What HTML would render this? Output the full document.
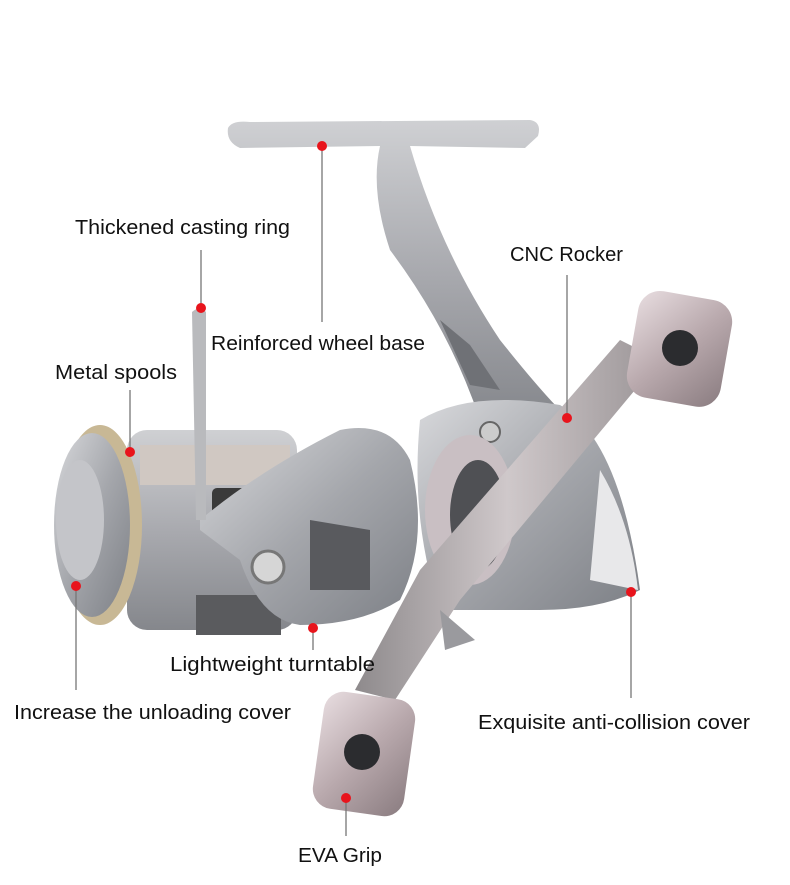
<!DOCTYPE html>
<html><head><meta charset="utf-8"><style>
html,body{margin:0;padding:0;background:#fff}
svg{display:block}
text{font-family:"Liberation Sans",sans-serif;font-size:20px;fill:#111}
</style></head><body>
<svg width="790" height="885" viewBox="0 0 790 885" xmlns="http://www.w3.org/2000/svg">
<defs>
<linearGradient id="m" x1="0" y1="0" x2="1" y2="1"><stop offset="0" stop-color="#d8d9dc"/><stop offset=".5" stop-color="#a4a6ab"/><stop offset="1" stop-color="#7d8086"/></linearGradient>
<linearGradient id="m2" x1="0" y1="0" x2="0" y2="1"><stop offset="0" stop-color="#cfd0d3"/><stop offset=".5" stop-color="#a9aaaf"/><stop offset="1" stop-color="#85878c"/></linearGradient>
<linearGradient id="pk" x1="0" y1="0" x2="1" y2="1"><stop offset="0" stop-color="#e8dde0"/><stop offset=".5" stop-color="#b9a9ad"/><stop offset="1" stop-color="#8a7c80"/></linearGradient>
<linearGradient id="arm" x1="0" y1="0" x2="1" y2="0"><stop offset="0" stop-color="#8e8a8c"/><stop offset=".5" stop-color="#cfc8ca"/><stop offset="1" stop-color="#9a9496"/></linearGradient>
</defs>
<!-- stem -->
<path d="M228,128 Q232,120 250,122 L530,120 Q542,122 538,136 L525,148 L410,146 Q440,250 500,340 Q540,390 560,410 L480,420 Q450,330 390,250 Q370,190 380,146 L240,148 Q226,142 228,128Z" fill="url(#m2)"/>
<path d="M440,320 L470,345 L500,390 L470,385 Z" fill="#6f7176"/>
<!-- body -->
<path d="M420,420 Q470,390 560,405 Q620,440 640,590 Q600,610 540,610 L440,610 Q410,520 420,420Z" fill="url(#m)"/>
<path d="M600,470 Q630,520 638,590 L590,580 Z" fill="#e8e8ea"/>
<circle cx="490" cy="432" r="10" fill="#ccc" stroke="#666" stroke-width="2"/>
<ellipse cx="470" cy="510" rx="45" ry="75" fill="#c9bfc3"/>
<ellipse cx="478" cy="515" rx="28" ry="55" fill="#4f5054"/>
<!-- spool -->
<rect x="127" y="430" width="170" height="200" rx="20" fill="url(#m2)"/>
<rect x="140" y="445" width="150" height="40" fill="#d0c8c2"/>
<rect x="212" y="488" width="55" height="40" rx="5" fill="#3a3a3a"/>
<ellipse cx="100" cy="525" rx="42" ry="100" fill="#c8b895"/>
<ellipse cx="92" cy="525" rx="38" ry="92" fill="url(#m)"/>
<ellipse cx="80" cy="520" rx="24" ry="60" fill="#c4c5c9"/>
<rect x="196" y="595" width="85" height="40" fill="#5a5b5e"/>
<!-- rotor -->
<path d="M200,520 Q260,470 340,430 Q390,420 410,460 Q430,540 400,600 Q360,625 300,625 Q260,620 240,560 Q220,545 200,530Z" fill="url(#m)"/>
<path d="M310,520 L370,530 L370,590 L310,590 Z" fill="#595a5e"/>
<circle cx="268" cy="567" r="16" fill="#d6d6d6" stroke="#777" stroke-width="3"/>
<path d="M192,312 Q200,305 206,312 L206,520 L196,520 Z" fill="#b9babd"/>
<!-- handle arm -->
<path d="M620,340 L660,360 L460,600 L395,700 L355,690 L420,570 Z" fill="url(#arm)"/>
<path d="M440,610 L475,640 L445,650 Z" fill="#9a9a9e"/>
<!-- knobs -->
<rect x="632" y="295" width="95" height="108" rx="22" fill="url(#pk)" transform="rotate(10 680 349)"/>
<circle cx="680" cy="348" r="18" fill="#2b2c2f"/>
<rect x="318" y="695" width="92" height="118" rx="20" fill="url(#pk)" transform="rotate(8 364 754)"/>
<circle cx="362" cy="752" r="18" fill="#2b2c2f"/>
<!-- leader lines -->
<g stroke="#777" stroke-width="1.3">
<line x1="201" y1="250" x2="201" y2="308"/>
<line x1="322" y1="146" x2="322" y2="322"/>
<line x1="567" y1="275" x2="567" y2="418"/>
<line x1="130" y1="390" x2="130" y2="452"/>
<line x1="76" y1="586" x2="76" y2="690"/>
<line x1="313" y1="628" x2="313" y2="650"/>
<line x1="631" y1="592" x2="631" y2="698"/>
<line x1="346" y1="798" x2="346" y2="836"/>
</g>
<g fill="#e8141c">
<circle cx="201" cy="308" r="5"/><circle cx="322" cy="146" r="5"/><circle cx="567" cy="418" r="5"/>
<circle cx="130" cy="452" r="5"/><circle cx="76" cy="586" r="5"/><circle cx="313" cy="628" r="5"/>
<circle cx="631" cy="592" r="5"/><circle cx="346" cy="798" r="5"/>
</g>
<text x="75" y="234" textLength="215" lengthAdjust="spacingAndGlyphs">Thickened casting ring</text>
<text x="211" y="350" textLength="214" lengthAdjust="spacingAndGlyphs">Reinforced wheel base</text>
<text x="510" y="261" textLength="113" lengthAdjust="spacingAndGlyphs">CNC Rocker</text>
<text x="55" y="379" textLength="122" lengthAdjust="spacingAndGlyphs">Metal spools</text>
<text x="14" y="719" textLength="277" lengthAdjust="spacingAndGlyphs">Increase the unloading cover</text>
<text x="170" y="671" textLength="205" lengthAdjust="spacingAndGlyphs">Lightweight turntable</text>
<text x="478" y="729" textLength="272" lengthAdjust="spacingAndGlyphs">Exquisite anti-collision cover</text>
<text x="298" y="862" textLength="84" lengthAdjust="spacingAndGlyphs">EVA Grip</text>
</svg>
</body></html>
